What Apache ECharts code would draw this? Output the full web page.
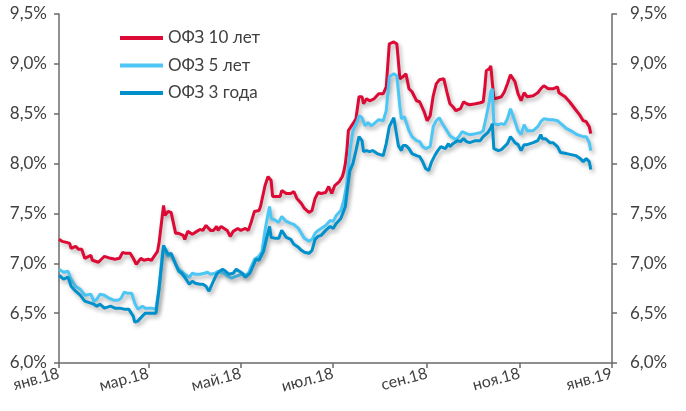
<!DOCTYPE html>
<html>
<head>
<meta charset="utf-8">
<script src="https://cdn.jsdelivr.net/npm/echarts@6/dist/echarts.min.js"></script>
<style>
html,body{margin:0;padding:0;background:#fff;}
#chart{width:686px;height:411px;}
</style>
</head>
<body>
<div id="chart"></div>
<script>
// Series names
const seriesNames = ['ОФЗ 10 лет', 'ОФЗ 5 лет', 'ОФЗ 3 года'];
// X tick dates and labels
const xTickDates = ['2018-01-01','2018-03-01','2018-05-01','2018-07-01','2018-09-01','2018-11-01','2019-01-01'];
const xTickLabels = ['янв.18','мар.18','май.18','июл.18','сен.18','ноя.18','янв.19'];
// Y ticks
const yMin = 6.0, yMax = 9.5, yStep = 0.5;

// Yields, % (dates in 2018, MM-DD)
const ofz10 = [
['01-01',7.24],['01-03',7.22],['01-06',7.21],['01-08',7.20],['01-09',7.15],['01-12',7.17],['01-14',7.14],['01-16',7.14],
['01-18',7.05],['01-19',7.07],['01-22',7.08],['01-23',7.03],['01-24',7.05],['01-27',7.01],['01-29',7.04],['01-31',7.07],
['02-04',7.05],['02-07',7.04],['02-10',7.05],['02-12',7.11],['02-14',7.10],['02-17',7.10],['02-19',7.05],['02-21',6.99],
['02-24',7.05],['02-26',7.03],['03-01',7.04],['03-03',7.03],['03-04',7.05],['03-07',7.12],['03-08',7.20],['03-11',7.58],
['03-12',7.48],['03-14',7.52],['03-16',7.51],['03-19',7.30],['03-21',7.30],['03-24',7.28],['03-25',7.24],['03-27',7.32],
['03-30',7.29],['04-02',7.32],['04-04',7.34],['04-06',7.33],['04-08',7.38],['04-11',7.33],['04-13',7.33],['04-15',7.37],
['04-16',7.33],['04-18',7.37],['04-20',7.35],['04-22',7.33],['04-24',7.27],['04-26',7.32],['04-29',7.35],['05-01',7.33],
['05-04',7.35],['05-06',7.33],['05-08',7.42],['05-10',7.52],['05-13',7.53],['05-14',7.57],['05-17',7.78],['05-19',7.87],
['05-21',7.83],['05-22',7.67],['05-25',7.67],['05-27',7.67],['05-28',7.73],['05-31',7.70],['06-03',7.70],['06-05',7.72],
['06-07',7.65],['06-10',7.60],['06-12',7.55],['06-15',7.51],['06-17',7.53],['06-19',7.65],['06-21',7.71],['06-23',7.70],
['06-26',7.71],['06-28',7.77],['06-30',7.70],['07-02',7.78],['07-05',7.82],['07-07',7.87],['07-08',7.92],['07-09',8.00],
['07-10',8.13],['07-11',8.33],['07-14',8.40],['07-16',8.45],['07-18',8.67],['07-20',8.67],['07-21',8.60],['07-23',8.65],
['07-25',8.63],['07-28',8.65],['07-31',8.70],['08-03',8.70],['08-05',8.77],['08-07',9.20],['08-10',9.22],['08-12',9.20],
['08-14',8.85],['08-16',8.87],['08-18',8.90],['08-20',8.75],['08-22',8.72],['08-25',8.63],['08-27',8.62],['08-30',8.52],
['09-01',8.43],['09-03',8.48],['09-05',8.68],['09-07',8.80],['09-09',8.84],['09-12',8.85],['09-14',8.72],['09-16',8.60],
['09-18',8.57],['09-20',8.53],['09-23',8.55],['09-25',8.62],['09-27',8.60],['09-29',8.59],['10-03',8.60],['10-06',8.61],
['10-08',8.62],['10-09',8.75],['10-10',8.93],['10-12',8.95],['10-13',8.98],['10-14',8.99],['10-15',8.65],['10-18',8.66],
['10-20',8.67],['10-22',8.72],['10-24',8.80],['10-26',8.89],['10-29',8.82],['10-31',8.70],['11-02',8.63],['11-04',8.71],
['11-06',8.67],['11-10',8.68],['11-13',8.71],['11-15',8.75],['11-17',8.78],['11-20',8.75],['11-23',8.75],['11-26',8.77],
['11-27',8.71],['12-01',8.67],['12-04',8.62],['12-07',8.56],['12-11',8.48],['12-13',8.43],['12-15',8.42],['12-17',8.37],
['12-18',8.30]
];
const ofz5 = [
['01-01',6.94],['01-04',6.91],['01-07',6.92],['01-09',6.84],['01-12',6.77],['01-15',6.74],['01-18',6.68],['01-22',6.69],
['01-24',6.62],['01-26',6.64],['01-28',6.69],['01-31',6.68],['02-03',6.65],['02-06',6.63],['02-09',6.63],['02-11',6.65],
['02-13',6.71],['02-15',6.70],['02-18',6.70],['02-20',6.60],['02-22',6.54],['02-25',6.57],['02-27',6.55],['03-03',6.55],
['03-06',6.54],['03-08',6.74],['03-10',7.07],['03-11',7.15],['03-14',7.07],['03-16',7.09],['03-19',6.99],['03-21',6.94],
['03-23',6.92],['03-25',6.89],['03-28',6.86],['03-30',6.90],['04-01',6.89],['04-04',6.89],['04-07',6.90],['04-09',6.91],
['04-11',6.89],['04-14',6.90],['04-16',6.92],['04-18',6.91],['04-20',6.90],['04-22',6.87],['04-25',6.85],['04-28',6.87],
['05-02',6.89],['05-04',6.88],['05-06',6.90],['05-08',6.97],['05-10',7.04],['05-13',7.07],['05-15',7.12],['05-17',7.33],
['05-19',7.50],['05-20',7.57],['05-21',7.45],['05-24',7.43],['05-26',7.41],['05-28',7.47],['05-31',7.42],['06-03',7.40],
['06-05',7.39],['06-08',7.35],['06-10',7.30],['06-12',7.25],['06-15',7.22],['06-17',7.24],['06-19',7.30],['06-21',7.33],
['06-23',7.35],['06-26',7.38],['06-29',7.43],['07-01',7.42],['07-03',7.48],['07-06',7.53],['07-08',7.63],['07-09',7.65],
['07-10',7.80],['07-12',8.13],['07-14',8.33],['07-17',8.43],['07-18',8.48],['07-20',8.46],['07-22',8.38],['07-24',8.41],
['07-26',8.38],['07-28',8.40],['07-31',8.44],['08-03',8.43],['08-05',8.53],['08-07',8.87],['08-10',8.90],['08-12',8.88],
['08-14',8.57],['08-15',8.45],['08-17',8.47],['08-18',8.48],['08-20',8.33],['08-22',8.27],['08-25',8.23],['08-27',8.22],
['08-29',8.17],['08-31',8.15],['09-03',8.17],['09-05',8.37],['09-07',8.43],['09-09',8.46],['09-11',8.40],['09-14',8.33],
['09-16',8.28],['09-18',8.26],['09-20',8.24],['09-22',8.27],['09-24',8.32],['09-27',8.30],['09-29',8.29],['10-03',8.30],
['10-06',8.31],['10-08',8.33],['10-10',8.47],['10-12',8.62],['10-13',8.72],['10-14',8.75],['10-15',8.40],['10-18',8.39],
['10-20',8.40],['10-22',8.39],['10-24',8.45],['10-26',8.55],['10-29',8.42],['10-31',8.33],['11-02',8.29],['11-04',8.39],
['11-06',8.33],['11-10',8.33],['11-13',8.37],['11-15',8.42],['11-17',8.45],['11-21',8.44],['11-23',8.44],['11-26',8.43],
['11-29',8.39],['12-02',8.35],['12-06',8.32],['12-09',8.29],['12-13',8.27],['12-15',8.27],['12-17',8.21],['12-18',8.13]
];
const ofz3 = [
['01-01',6.88],['01-04',6.84],['01-07',6.86],['01-09',6.77],['01-12',6.72],['01-15',6.68],['01-18',6.62],['01-22',6.60],
['01-24',6.59],['01-26',6.57],['01-28',6.59],['01-31',6.55],['02-04',6.57],['02-07',6.55],['02-10',6.55],['02-13',6.54],
['02-16',6.54],['02-19',6.47],['02-20',6.41],['02-22',6.42],['02-25',6.47],['02-27',6.50],['03-03',6.50],['03-06',6.50],
['03-08',6.74],['03-10',7.02],['03-11',7.18],['03-14',7.09],['03-16',7.10],['03-19',6.99],['03-21',6.92],['03-23',6.90],
['03-25',6.86],['03-28',6.79],['03-30',6.82],['04-01',6.80],['04-04',6.79],['04-06',6.79],['04-08',6.77],['04-10',6.72],
['04-12',6.79],['04-15',6.89],['04-17',6.92],['04-19',6.94],['04-21',6.92],['04-23',6.89],['04-26',6.90],['04-28',6.94],
['04-30',6.92],['05-02',6.90],['05-04',6.86],['05-07',6.90],['05-09',6.97],['05-11',7.04],['05-13',7.03],['05-16',7.12],
['05-18',7.25],['05-20',7.37],['05-21',7.26],['05-24',7.25],['05-26',7.25],['05-28',7.33],['05-31',7.26],['06-03',7.24],
['06-05',7.19],['06-08',7.16],['06-10',7.13],['06-12',7.11],['06-15',7.10],['06-17',7.13],['06-19',7.24],['06-21',7.27],
['06-23',7.28],['06-26',7.33],['06-29',7.37],['07-01',7.35],['07-03',7.40],['07-06',7.45],['07-08',7.53],['07-09',7.57],
['07-10',7.70],['07-12',7.93],['07-14',8.00],['07-16',8.13],['07-18',8.27],['07-20',8.23],['07-21',8.12],['07-23',8.13],
['07-25',8.12],['07-27',8.13],['07-30',8.10],['08-01',8.09],['08-03',8.08],['08-05',8.20],['08-07',8.37],['08-10',8.46],
['08-11',8.48],['08-13',8.18],['08-15',8.13],['08-16',8.18],['08-18',8.18],['08-20',8.15],['08-22',8.10],['08-25',8.08],
['08-27',8.07],['08-29',8.02],['08-31',7.95],['09-02',7.93],['09-04',8.02],['09-06',8.08],['09-08',8.13],['09-10',8.17],
['09-13',8.15],['09-15',8.20],['09-16',8.17],['09-18',8.20],['09-21',8.23],['09-23',8.22],['09-25',8.25],['09-27',8.22],
['09-29',8.21],['10-03',8.23],['10-06',8.23],['10-08',8.27],['10-11',8.31],['10-13',8.36],['10-14',8.40],['10-15',8.15],
['10-18',8.13],['10-20',8.14],['10-22',8.17],['10-24',8.20],['10-26',8.27],['10-29',8.21],['10-31',8.19],['11-02',8.13],
['11-04',8.19],['11-06',8.19],['11-10',8.21],['11-13',8.23],['11-15',8.29],['11-16',8.25],['11-18',8.25],['11-21',8.21],
['11-23',8.21],['11-26',8.17],['11-28',8.11],['12-02',8.10],['12-05',8.09],['12-08',8.08],['12-11',8.05],['12-13',8.02],
['12-15',8.05],['12-17',8.02],['12-18',7.94]
];

const colors = ['#DC0A34', '#4CC6F4', '#0090CB'];
const FONT = 'Lato';
const TXT = '#404040';
const AXIS = '#6b6b6b';

function ts(s) { const p = s.split('-').map(Number); return Date.UTC(p[0], p[1] - 1, p[2]); }
function toPts(arr) { return arr.map(d => [ts('2018-' + d[0]), d[1]]); }
const tickTs = xTickDates.map(ts);
function yFmt(v) { return v.toFixed(1).replace('.', ',') + '%'; }

const chart = echarts.init(document.getElementById('chart'), null, { renderer: 'canvas' });
const yAxisBase = {
  type: 'value', min: yMin, max: yMax, interval: yStep,
  axisLine: { show: true, lineStyle: { color: AXIS, width: 1.5 } },
  axisTick: { show: true, inside: false, length: 5, lineStyle: { color: AXIS, width: 1.5 } },
  splitLine: { show: false },
  axisLabel: { formatter: yFmt, color: TXT, fontFamily: FONT, fontSize: 17 }
};
chart.setOption({
  animation: false,
  backgroundColor: '#fff',
  grid: { left: 59, right: 74, top: 14, bottom: 48, containLabel: false },
  legend: {
    orient: 'vertical', left: 120, top: 28, padding: 0,
    icon: 'rect', itemWidth: 43, itemHeight: 4, itemGap: 7.5,
    textStyle: { color: TXT, fontFamily: FONT, fontSize: 17, lineHeight: 20 },
    data: seriesNames
  },
  xAxis: {
    type: 'value', min: tickTs[0], max: tickTs[tickTs.length - 1],
    axisLine: { show: true, onZero: false, lineStyle: { color: AXIS, width: 1.5 } },
    axisTick: { show: true, length: 5, customValues: tickTs, lineStyle: { color: AXIS, width: 1.5 } },
    splitLine: { show: false },
    axisLabel: {
      customValues: tickTs, rotate: 15, margin: 10,
      color: TXT, fontFamily: FONT, fontSize: 16,
      formatter: function (v) { const i = tickTs.indexOf(v); return i >= 0 ? xTickLabels[i] : ''; }
    }
  },
  yAxis: [
    Object.assign({}, yAxisBase, { position: 'left', axisLabel: Object.assign({}, yAxisBase.axisLabel, { margin: 12 }) }),
    Object.assign({}, yAxisBase, { position: 'right', axisLabel: Object.assign({}, yAxisBase.axisLabel, { margin: 18 }) })
  ],
  series: [ofz10, ofz5, ofz3].map((d, i) => ({
    name: seriesNames[i], type: 'line', yAxisIndex: 0,
    data: toPts(d), symbol: 'none', smooth: false,
    color: colors[i],
    lineStyle: { color: colors[i], width: 3, shadowColor: 'rgba(0,0,0,0.3)', shadowBlur: 4, shadowOffsetX: 2, shadowOffsetY: 3 }
  }))
});
</script>
</body>
</html>
